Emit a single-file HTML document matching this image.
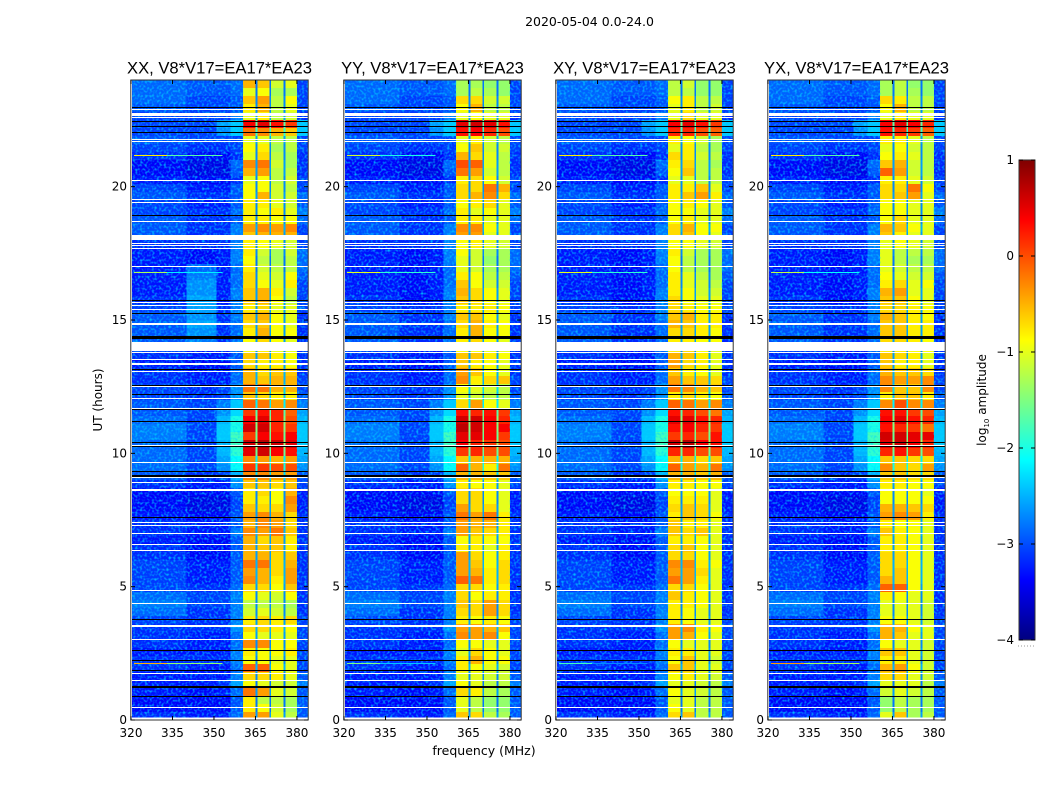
<!DOCTYPE html>
<html lang="en">
<head>
<meta charset="utf-8">
<title>2020-05-04 amplitude waterfall</title>
<style>
html,body{margin:0;padding:0;background:#fff;}
svg{display:block;}
text{font-family:"DejaVu Sans","Liberation Sans",sans-serif;fill:#000;}
.ttl{font-family:"Liberation Sans",sans-serif;font-size:16.6px;}
</style>
</head>
<body>
<svg id="fig" xmlns="http://www.w3.org/2000/svg" width="1050" height="800" viewBox="0 0 1050 800">
<defs>
<filter id="speckle" x="0" y="0" width="100%" height="100%" color-interpolation-filters="sRGB">
<feTurbulence type="fractalNoise" baseFrequency="0.42" numOctaves="1" seed="7"/>
<feColorMatrix type="matrix" values="0 0 0 0 0  0 0 0 0 0.85  0 0 0 0 1  2.2 0 0 0 -1.0"/>
</filter>
</defs>
<text x="589.5" y="26" text-anchor="middle" font-size="12.5">2020-05-04 0.0-24.0</text>
<text x="102" y="400" text-anchor="middle" font-size="12" transform="rotate(-90 102 400)">UT (hours)</text>
<text x="484" y="755" text-anchor="middle" font-size="12.5">frequency (MHz)</text>
<g id="panels"></g>
<g id="cbar"></g>
<text x="986" y="400" text-anchor="middle" font-size="12" transform="rotate(-90 986 400)">log<tspan font-size="7" dy="3">10</tspan><tspan dy="-3"> amplitude</tspan></text>
</svg>
<script>
// Chart data: log10 amplitude. Rows run from 24 h at the top down to 0 h.
const panelTitles = ["XX, V8*V17=EA17*EA23","YY, V8*V17=EA17*EA23","XY, V8*V17=EA17*EA23","YX, V8*V17=EA17*EA23"];
const xTickLabels = [320,335,350,365,380];
const yTickLabels = [0,5,10,15,20];
const colorbarTicks = [1,0,-1,-2,-3,-4];
// Frequency columns in MHz: west, mid, wing, shoulder, band1, gap, band2, gap, band3, gap, band4, right
const freqEdges = [320,340,351,356,360.5,365,365.7,370,370.7,375.2,375.9,380,384];

const xxBands = [
[-.5,-.6,-1.1,-1],[-1,-.9,-1.3,-1.3],[-.6,-.4,-1.2,-.9],[-.8,-.5,-1.2,-1],[-1,-.8,-1.2,-1.1],
[.4,.5,.3,.1],[-.2,-.3,-.5,-.6],[-1,-1,-1.2,-1.2],[-.9,-.8,-1.3,-1.2],[-1,-.7,-1.2,-1.3],
[-.3,-.2,-1.1,-1.3],[-.5,-.4,-1.2,-1.2],[-1,-.9,-1.2,-1.1],[-.9,-.9,-1.1,-1.2],[-.9,-.5,-1.1,-1.1],
[-.8,-.8,-1,-1.1],[-.8,-.9,-.8,-1],[-.8,-.8,-.9,-.9],[-.4,-.3,-.4,-.3],[-.6,-.5,-.5,-.5],
[-.8,-.9,-1,-1.1],[-.8,-1.1,-1.3,-1.1],[-.9,-1.2,-1.3,-1.2],[-.8,-1.1,-1.2,-1.2],[-.7,-1,-1.1,-.9],
[-.7,-.9,-1,-.8],[-.6,-.5,-.8,-1.1],[-.6,-.5,-.9,-1.2],[-.8,-.7,-1,-1],[-.6,-.5,-.9,-1],
[-.7,-.6,-.9,-1],[-.8,-.5,-.9,-.9],[-.9,-.7,-.9,-1],[-.9,-.8,-1,-1],[-.6,-.6,-.8,-.9],
[-.7,-.8,-.8,-.9],[-.5,-.7,-.6,-.6],[-.5,-.6,-.5,-.5],[-.2,-.2,-.5,-.5],[-.6,-.7,-.8,-.8],
[-.1,-.2,-.4,-.3],[.1,.3,.2,-.1],[.4,.5,.2,0],[.6,.6,.2,.1],[.1,.4,.3,.4],
[.6,.7,.6,.5],[.5,.6,.4,.3],[-.3,-.4,-.5,-.4],[.1,.1,0,0],[-.3,-.3,-.4,-.4],
[-.6,-.6,-.7,-.6],[-.8,-.7,-.9,-.5],[-.8,-.8,-.9,-.3],[-.6,-.7,-.7,-.4],[-.4,-.3,-.5,-.7],
[-.5,-.3,-.4,-.7],[-.3,-.4,-.2,-.6],[-.5,-.7,-.6,-.8],[-.5,-.6,-.6,-.8],[-.5,-.5,-.7,-.6],
[-.2,-.2,-.7,-.5],[-.4,-.5,-.7,-.4],[-.3,-.5,-.8,-.4],[-.7,-.7,-.9,-.6],[-.9,-1,-1.1,-.9],
[-1.2,-1.2,-1.2,-1.3],[-1.1,-1,-1.1,-1.2],[-.8,-.7,-.8,-.7],[-.7,-.7,-.8,-.9],[-.9,-1,-1,-1],
[-.3,-.3,-.9,-.9],[-.8,-.9,-.9,-.8],[-.9,-.9,-1,-1],[-.1,-.1,-.9,-1],[-.7,-.7,-.8,-1],
[-.9,-1,-1.1,-1.1],[-.2,-.4,-1,-1.1],[-.8,-1.2,-1.2,-1.3],[-.8,-.9,-1.1,-1.3],[-.4,-.4,-1,-1.2]];

const yyBands = [
[-1.3,-1.3,-1.4,-1.4],[-1.3,-1.2,-1.3,-1.4],[-.7,-.7,-1.1,-1.1],[-.9,-.5,-1.2,-1.2],[-1,-.9,-1,-1],
[.5,.6,.5,.3],[.3,.4,.2,0],[-1,-.8,-1.1,-1.2],[-.9,-.6,-1.1,-1.1],[-.5,-.7,-1,-1.2],
[0,-.1,-1,-1.2],[-.2,-.4,-1.1,-1.2],[-.8,-.7,-.9,-1.1],[-.7,-.7,-.2,-.5],[-.7,-.5,-.3,-.7],
[-.9,-.8,-.7,-1],[-.8,-1,-.9,-1],[-.8,-.8,-1,-1],[-.3,-.3,-.9,-1],[-.4,-.4,-1,-1],
[-.9,-.8,-1,-1.1],[-.9,-1.1,-1.3,-1.3],[-1,-1.1,-1.4,-1.3],[-1,-1.1,-1.3,-1.3],[-.8,-.9,-1.2,-1.2],
[-.6,-.9,-1.1,-1.1],[-.5,-.7,-.9,-1],[-.6,-.7,-.9,-1],[-.8,-.8,-.8,-.9],[-.6,-.6,-.9,-1],
[-.7,-.5,-.8,-.9],[-.8,-.5,-.9,-.9],[-.8,-.7,-.9,-1],[-.9,-.9,-1,-1],[-.6,-.6,-.8,-.9],
[-.6,-.8,-.9,-1],[-.4,-.6,-.9,-1],[-.3,-.8,-.7,-.6],[-.9,-1,-1.1,-1.2],[-1,-1.1,-1.2,-1.2],
[-.7,-.4,-.9,-1],[.3,.2,.3,.1],[.6,.6,.4,.2],[.7,.6,.4,.4],[.5,.5,.4,.1],
[.4,.2,.1,0],[.1,.2,0,0],[-.6,-.5,-.5,-.5],[-.1,-.5,-.8,-.2],[-.5,-.5,-.6,-.6],
[-.8,-.9,-.9,-1],[-.7,-.7,-.9,-1],[-.7,-.7,-.9,-1],[-.4,-.7,-.7,-1],[-.2,-.4,-.2,-.8],
[-.4,-.5,-.5,-.8],[-.4,-.6,-.7,-.8],[-.9,-.8,-.9,-.9],[-.8,-.8,-1,-.8],[-.4,-.7,-.9,-.8],
[-.4,-.6,-.9,-.7],[-.4,-.5,-.8,-.7],[-.1,-.2,-.8,-.7],[-.7,-.7,-.9,-.8],[-.7,-.9,-.8,-.8],
[-.6,-.7,-.4,-.7],[-.7,-.7,-.4,-.7],[-.8,-.9,-.8,-.9],[-.4,-.4,-.5,-.6],[-.3,-.4,-.3,-.9],
[-.9,-.9,-1,-1],[-1,-.7,-.9,-1],[-.8,-.5,-.9,-.9],[-.8,-.9,-1,-1.1],[-1,-1,-1.1,-1.1],
[-.9,-1,-1.2,-1.2],[-.7,-.8,-1.2,-1.3],[-1,-1.2,-1.4,-1.4],[-1,-1.2,-1.4,-1.4],[-.6,-.7,-1.2,-1.3]];

const xyBands = [
[-1.2,-1.1,-1.4,-1.4],[-1.2,-1.2,-1.4,-1.4],[-.9,-.8,-1.2,-1.2],[-1,-.8,-1.2,-1.1],[-1,-.7,-1,-1],
[.4,.5,.3,.1],[.2,.2,0,-.1],[-.8,-.9,-1.1,-1.3],[-1,-.8,-1.2,-1.3],[-.7,-.8,-1.1,-1.2],
[-.8,-.7,-1.2,-1.3],[-.9,-.6,-1.2,-1.2],[-1,-1,-1.2,-1.2],[-.8,-.8,-.6,-1],[-.8,-.6,-.4,-.8],
[-.9,-.8,-.9,-1],[-.9,-.9,-1,-1],[-.9,-.8,-1,-1],[-.7,-.5,-.9,-.9],[-.7,-.6,-.9,-1],
[-.9,-.9,-1,-1.1],[-.8,-1.1,-1.3,-1.3],[-.9,-1.2,-1.3,-1.3],[-.9,-1.2,-1.3,-1.3],[-.8,-1,-1.2,-1.3],
[-.8,-1,-1.1,-1.2],[-.8,-.9,-1.1,-1.1],[-.7,-.9,-1,-1],[-.7,-.8,-.9,-.9],[-.6,-.5,-.8,-.8],
[-.5,-.6,-.8,-.8],[-.7,-.7,-.8,-.9],[-.8,-.8,-.9,-.9],[-.8,-.7,-.9,-1],[-.5,-.6,-.8,-1],
[-.4,-.7,-.8,-1],[-.6,-.8,-.9,-1],[-.4,-.6,-.6,-.7],[-.2,-.3,-.5,-.6],[-.8,-.7,-.8,-.9],
[-.1,-.2,-.4,-.3],[.3,.2,0,-.2],[.5,.5,.3,.2],[.3,.4,.2,.1],[.1,.2,0,.3],
[.6,.7,.4,.3],[.2,.2,0,0],[-.5,-.5,-.7,-.6],[-.1,-.4,-.5,-.2],[-.5,-.5,-.6,-.5],
[-.8,-.8,-.9,-.9],[-.9,-.9,-.9,-1],[-.8,-.8,-.8,-1],[-.7,-.6,-.7,-1],[-.8,-.6,-.7,-.9],
[-.6,-.8,-.8,-1],[-.6,-.7,-.6,-1],[-.8,-.8,-.9,-1],[-.7,-.6,-.9,-1],[-.7,-.7,-.9,-1],
[-.3,-.3,-.8,-.9],[-.4,-.4,-.7,-1],[-.2,-.4,-.8,-1],[-.7,-.7,-.9,-1],[-.6,-.8,-.9,-1],
[-.8,-.8,-.9,-1],[-.8,-.9,-1,-1],[-.8,-.9,-1,-1],[-.4,-.3,-.8,-.9],[-.4,-.5,-.9,-1],
[-.9,-1,-1,-1],[-.8,-.8,-1,-1],[-.9,-.6,-1,-1.1],[-.6,-.6,-1,-1],[-.9,-.8,-1,-1.1],
[-1,-1,-1.1,-1.2],[-.9,-1,-1.1,-1.2],[-1,-1,-1.2,-1.2],[-.9,-1,-1.2,-1.2],[-.7,-.6,-1.2,-1.2]];

const yxBands = [
[-1.3,-1.2,-1.4,-1.4],[-1.3,-1.2,-1.3,-1.4],[-.7,-.8,-1.2,-1.2],[-.9,-.5,-1.2,-1.2],[-1,-.8,-1,-1],
[.4,.5,.4,.2],[.3,.2,.1,-.1],[-.8,-.8,-1,-1.2],[-1,-.9,-1.1,-1.2],[-.9,-.8,-1,-1.2],
[-.6,-.5,-1.1,-1.2],[-.1,-.4,-1.1,-1.2],[-.8,-.8,-1,-1.1],[-.7,-.7,-.2,-.9],[-.7,-.6,-.4,-1],
[-.9,-.9,-1,-1],[-.9,-.9,-1,-1],[-.9,-.7,-1,-1],[-.5,-.6,-.9,-1],[-.6,-.8,-1,-1],
[-1,-.9,-1,-1.1],[-1,-1.2,-1.2,-1.2],[-1,-1.2,-1.3,-1.3],[-1,-1.1,-1.2,-1.2],[-.9,-1,-1.1,-1.1],
[-.8,-.7,-1,-.9],[-.5,-.4,-1,-1],[-.6,-.6,-.9,-1],[-.7,-.7,-.8,-.9],[-.5,-.6,-.8,-.9],
[-.6,-.6,-.8,-.8],[-.6,-.6,-.8,-.8],[-.7,-.7,-.8,-.9],[-.8,-.8,-.9,-.9],[-.6,-.7,-.8,-1],
[-.6,-.8,-.8,-1],[-.5,-.6,-.6,-.7],[-.3,-.4,-.4,-.3],[-.3,-.6,-.6,-.3],[-.8,-.6,-.6,-.8],
[-.3,0,-.3,-.3],[.3,.3,.1,0],[.4,.5,.3,.2],[.3,.2,.1,-.2],[.6,.6,.5,.5],
[.5,.6,.4,.2],[.2,.3,.1,0],[-.6,-.6,-.7,-.7],[-.3,-.6,-.7,-.4],[-.6,-.6,-.7,-.7],
[-.8,-.8,-.9,-.9],[-.9,-.9,-.9,-1],[-.9,-.9,-.9,-.9],[-.5,-.5,-.6,-.7],[-.4,-.3,-.4,-.8],
[-.8,-.9,-.9,-1],[-.6,-.8,-.9,-1],[-.8,-.8,-.9,-1],[-.8,-.8,-.9,-1],[-.7,-.7,-.9,-1],
[-.7,-.7,-.9,-1],[-.7,-.6,-.9,-1],[-.5,-.6,-.9,-1],[-.1,-.1,-.9,-1],[-.8,-.9,-1,-1],
[-1,-1,-1,-1.1],[-1,-1,-1,-1.1],[-.9,-.9,-1,-1.1],[-.5,-.5,-.9,-1],[-.5,-.6,-1,-1],
[-.9,-1,-1,-1.1],[-.6,-.6,-1,-1.1],[-.8,-.8,-1,-1.1],[-.5,-.4,-.9,-1.1],[-.7,-.7,-1,-1.1],
[-1,-1,-1,-1.2],[-1.1,-1,-1.1,-1.2],[-1.4,-1.2,-1.3,-1.3],[-1.4,-1.2,-1.3,-1.3],[-1,-.6,-1.3,-1.2]];

const westLevel = [-2.9,-2.9,-2.9,-3,-3.1,-3.1,-3.1,-3,-3.1,-3.2,-3.4,-3.4,-3.3,-3.1,-3,-3.1,-3.1,-3,-3,-3,
-3.2,-3.3,-3.3,-3.3,-3.3,-3.3,-3.3,-3.2,-3.1,-3,-3,-3,-3,-3.1,-3.2,-3.3,-3.2,-3.2,-3.1,-3.1,
-3,-3,-2.9,-2.8,-2.8,-2.9,-2.9,-2.9,-2.9,-3,-3.2,-3.4,-3.4,-3.4,-3.3,-3.2,-3.2,-3.3,-3.2,-3.2,
-3.1,-3.1,-3.1,-3.1,-2.9,-2.8,-2.9,-3.1,-3.2,-3.2,-3.2,-3.3,-3.2,-3.2,-3.3,-3.3,-3.3,-3.4,-3.4,-3.2];
const midLevel = [-3,-3,-3.1,-3.1,-3.1,-3.1,-3.1,-3.1,-3.2,-3.4,-3.5,-3.5,-3.4,-3.3,-3.2,-3.3,-3.2,-3.2,-3.2,-3.2,
-3.2,-3.4,-3.4,-3.4,-3.4,-3.4,-3.4,-3.4,-3.2,-3.2,-3.2,-3.2,-3.2,-3.3,-3.3,-3.4,-3.3,-3.3,-3.2,-3.2,
-3.1,-3.1,-3.1,-3.1,-3.1,-3.1,-3.1,-3.1,-3.1,-3.2,-3.3,-3.4,-3.5,-3.5,-3.4,-3.3,-3.3,-3.4,-3.4,-3.4,
-3.3,-3.3,-3.3,-3.2,-3.1,-3.1,-3.2,-3.2,-3.2,-3.3,-3.3,-3.3,-3.2,-3.3,-3.3,-3.3,-3.4,-3.4,-3.4,-3.3];
const xxMidLevel = [-3,-3,-3.1,-3.1,-3.1,-3.1,-3.1,-3.1,-3.2,-3.4,-3.5,-3.5,-3.4,-3.3,-3.2,-3.3,-3.2,-3.2,-3.2,-3.2,
-3.2,-3.4,-3.4,-2.9,-2.8,-2.7,-2.7,-2.6,-2.6,-2.7,-2.6,-2.7,-2.8,-3.3,-3.3,-3.4,-3.3,-3.3,-3.2,-3.2,
-3.1,-3.1,-3.1,-3.1,-3.1,-3.1,-3.1,-3.1,-3.1,-3.2,-3.3,-3.4,-3.5,-3.5,-3.4,-3.3,-3.3,-3.4,-3.4,-3.4,
-3.3,-3.3,-3.3,-3.2,-3.1,-3.1,-3.2,-3.2,-3.2,-3.3,-3.3,-3.3,-3.2,-3.3,-3.3,-3.3,-3.4,-3.4,-3.4,-3.3];
const wingLevel = [-3,-3,-3.1,-3.1,-3.1,-2.6,-2.7,-3.1,-3.2,-3.4,-3.5,-3.5,-3.4,-3.3,-3.2,-3.3,-3.2,-3.2,-3.2,-3.2,
-3.2,-3.3,-3.3,-3.3,-3.3,-3.3,-3.3,-3.3,-3.2,-3.2,-3.2,-3.2,-3.2,-3.3,-3.3,-3.4,-3.3,-3.3,-3.1,-3.1,
-2.8,-2.7,-2.5,-2.4,-2.4,-2.5,-2.5,-2.6,-2.7,-3.1,-3.3,-3.4,-3.5,-3.5,-3.4,-3.3,-3.3,-3.4,-3.4,-3.4,
-3.3,-3.3,-3.3,-3.2,-3.1,-3.1,-3.2,-3.2,-3.2,-3.3,-3.3,-3.3,-3.2,-3.3,-3.3,-3.2,-3.3,-3.4,-3.4,-3.3];
const shoulderLevel = [-2.9,-2.9,-3,-3,-2.8,-2.4,-2.4,-3.1,-3.1,-3.2,-2.9,-3,-3.2,-3,-3,-3,-2.9,-3,-2.8,-2.8,
-2.8,-2.8,-2.8,-2.9,-2.9,-2.9,-2.8,-2.8,-2.8,-2.8,-2.9,-2.9,-2.9,-2.9,-3,-3,-2.9,-2.9,-2.7,-2.7,
-2.4,-2.3,-2,-2,-1.8,-1.8,-1.9,-2.1,-2.1,-2.5,-2.7,-3,-3.1,-3.1,-3,-3,-2.8,-3,-3,-3,
-3,-3,-3,-2.9,-2.8,-2.8,-2.8,-2.8,-2.7,-2.9,-2.9,-2.8,-2.8,-2.9,-2.8,-2.6,-2.9,-3,-3,-2.9];
const rightLevel = [-3.1,-3.1,-3.1,-3.1,-3.2,-2.4,-2.4,-3.1,-3.1,-3.2,-3.2,-3.2,-3.1,-3.1,-2.9,-3,-2.8,-2.9,-3.1,-3.1,
-3.1,-2.9,-2.9,-2.9,-3,-3.1,-3.1,-3.1,-3.1,-3.2,-3.2,-3.2,-3.2,-3.2,-3.2,-3.2,-3.2,-3.1,-3.1,-3,
-2.8,-2.6,-2.5,-2.4,-2.4,-2.4,-2.5,-2.6,-2.7,-3,-3.1,-3.3,-3.3,-3.3,-3.2,-3.2,-3.2,-3.2,-3.2,-3.2,
-3.2,-3.2,-3.2,-3.2,-3.2,-3.2,-3.2,-3.1,-3.1,-3.1,-3.1,-3.1,-3.1,-3.1,-3,-2.8,-3,-3,-3,-3];
const gapLevel = [-2.8,-2.8,-2.7,-2.7,-2.6,-1.7,-1.9,-2.6,-2.7,-2.7,-2.6,-2.6,-2.7,-2.7,-2.6,-2.7,-2.7,-2.7,-2.5,-2.6,
-2.7,-2.7,-2.8,-2.8,-2.7,-2.7,-2.6,-2.6,-2.6,-2.6,-2.6,-2.6,-2.6,-2.7,-2.6,-2.6,-2.5,-2.5,-2.3,-2.4,
-2.2,-1.7,-1.5,-1.5,-1.6,-1.4,-1.6,-2.2,-2,-2.3,-2.6,-2.7,-2.7,-2.6,-2.6,-2.6,-2.5,-2.6,-2.6,-2.6,
-2.5,-2.5,-2.5,-2.6,-2.7,-2.7,-2.7,-2.6,-2.5,-2.6,-2.7,-2.6,-2.7,-2.5,-2.7,-2.8,-2.6,-2.8,-2.8,-2.6];

// Flagged time ranges in hours: centre and span
const whiteFlagHours = [22.91,22.71,22.59,21.78,21.69,20.24,19.53,19.39,18.7,18.1,17.86,17.79,17.67,17.01,15.64,15.53,15.39,14.86,14,13.77,13.51,13.35,13.08,12.51,12.05,11.69,10.31,9.66,9.08,8.89,8.64,7.41,7.28,7,6.59,6.36,4.86,4.38,3.54,3.49,3.03,1.75,1.5,.48];
const whiteFlagSpans = [.05,.11,.05,.05,.05,.05,.05,.05,.05,.175,.05,.05,.05,.05,.05,.05,.05,.08,.35,.05,.05,.08,.05,.05,.05,.05,.05,.05,.05,.05,.09,.05,.05,.05,.05,.05,.05,.05,.05,.05,.05,.05,.05,.05];
const blackFlagHours = [22.98,22.43,22.26,22.04,18.93,15.72,15.25,14.35,13.16,12.55,12.21,11.63,11.21,10.41,10.24,9.31,9.15,7.6,3.78,2.59,2.24,1.86,1.25,.89];
const blackFlagSpans = [.05,.04,.04,.04,.04,.04,.04,.11,.04,.04,.04,.04,.05,.05,.04,.04,.08,.04,.04,.04,.04,.04,.08,.04];

// Narrow interference lines: hour, and the level of each panel (XX, YY, XY, YX)
const rfiHours = [21.2,16.8,2.14];
const xxRfi = [-.8,-1.3,-.5];
const yyRfi = [-1.1,-1,-1.5];
const xyRfi = [-.8,-1,-1.8];
const yxRfi = [-.8,-1.2,-.4];
const rfiEdges = [321,333,353];

const panelBands = [xxBands,yyBands,xyBands,yxBands];
const panelRfi = [xxRfi,yyRfi,xyRfi,yxRfi];
const panelMid = [xxMidLevel,midLevel,midLevel,midLevel];

// Layout
const NS = "http://www.w3.org/2000/svg";
const panelLeft = [131,344,556,768];
const plotW = 177, plotTop = 80, plotBottom = 720;
const vMin = -4, vMax = 1;

function xScale(p, f){ return panelLeft[p] + (f - 320) * plotW / 64; }
function yScale(h){ return plotBottom - h * (plotBottom - plotTop) / 24; }
function clip01(v){ return Math.max(0, Math.min(1, v)); }
function jet(v){
  const t = clip01((v - vMin) / (vMax - vMin));
  const r = clip01(1.5 - Math.abs(4*t - 3));
  const g = clip01(1.5 - Math.abs(4*t - 2));
  const b = clip01(1.5 - Math.abs(4*t - 1));
  return "rgb(" + Math.round(r*255) + "," + Math.round(g*255) + "," + Math.round(b*255) + ")";
}
function mk(parent, tag, attrs){
  const el = document.createElementNS(NS, tag);
  for (const k in attrs) el.setAttribute(k, attrs[k]);
  parent.appendChild(el);
  return el;
}
function columnValue(p, r, c){
  const b = panelBands[p][r];
  switch (c) {
    case 0: return westLevel[r];
    case 1: return panelMid[p][r];
    case 2: return wingLevel[r];
    case 3: return shoulderLevel[r];
    case 4: return b[0];
    case 5: return gapLevel[r];
    case 6: return b[1];
    case 7: return gapLevel[r];
    case 8: return b[2];
    case 9: return gapLevel[r];
    case 10: return b[3];
    default: return rightLevel[r];
  }
}
function flagRect(g, p, h, span, colour){
  const hh = Math.max(1, Math.round(span * (plotBottom - plotTop) / 24));
  const yy = Math.round(yScale(h) - hh / 2);
  return mk(g, "rect", {x:panelLeft[p], y:yy, width:plotW, height:hh, fill:colour, "shape-rendering":"crispEdges"});
}

const panelsG = document.getElementById("panels");
const rowNames = ["xx","yy","xy","yx"];
panelTitles.forEach(function(title, p){
  const g = mk(panelsG, "g", {});
  
  

  const rows = panelBands[p].length;
  const span = 24 / rows;
  const heat = mk(g, "g", {"shape-rendering":"crispEdges"});
  
  
  for (let r = 0; r < rows; r++) {
    const y0 = yScale(24 - r * span), y1 = yScale(24 - (r + 1) * span);
    for (let c = 0; c < freqEdges.length - 1; c++) {
      const x0 = xScale(p, freqEdges[c]), x1 = xScale(p, freqEdges[c+1]);
      const cell = mk(heat, "rect", {x:x0.toFixed(2), y:y0.toFixed(2), width:(x1-x0).toFixed(2), height:(y1-y0).toFixed(2), fill:jet(columnValue(p,r,c))});
      
      
    }
  }
  // decorative grain over the out-of-band background only (texture, not data)
  const grainA = mk(g, "rect", {x:xScale(p,320), y:plotTop, width:xScale(p,360.5)-xScale(p,320), height:plotBottom-plotTop, filter:"url(#speckle)"});
  
  
  const grainB = mk(g, "rect", {x:xScale(p,380), y:plotTop, width:xScale(p,384)-xScale(p,380), height:plotBottom-plotTop, filter:"url(#speckle)"});
  
  
  // interference lines
  rfiHours.forEach(function(h, i){
    const v = panelRfi[p][i];
    const a = mk(g, "rect", {x:xScale(p,rfiEdges[0]), y:Math.round(yScale(h)), width:xScale(p,rfiEdges[1])-xScale(p,rfiEdges[0]), height:1, fill:jet(v), "shape-rendering":"crispEdges"});
    
    
    const b = mk(g, "rect", {x:xScale(p,rfiEdges[1]), y:Math.round(yScale(h)), width:xScale(p,rfiEdges[2])-xScale(p,rfiEdges[1]), height:1, fill:jet(v-0.9), "shape-rendering":"crispEdges"});
    
    
  });
  // flags
  whiteFlagHours.forEach(function(h, i){
    const f = flagRect(g, p, h, whiteFlagSpans[i], "#fff");
    
    
  });
  blackFlagHours.forEach(function(h, i){
    const f = flagRect(g, p, h, blackFlagSpans[i], "#000");
    
    
  });
  // unfilled strips next to the frame
  const s1 = mk(g, "rect", {x:panelLeft[p], y:717.5, width:plotW, height:2.5, fill:"#fff"});
  
  
  const s2 = mk(g, "rect", {x:panelLeft[p], y:plotTop, width:1, height:plotBottom-plotTop, fill:"#fff"});
  
  
  // frame
  const frame = mk(g, "rect", {x:panelLeft[p]-0.2, y:plotTop, width:plotW+0.4, height:plotBottom-plotTop, fill:"none", stroke:"#333", "stroke-width":1});
  
  
  // ticks and labels
  xTickLabels.forEach(function(t){
    const x = xScale(p, t);
    const t1 = mk(g, "line", {x1:x, x2:x, y1:plotBottom, y2:plotBottom-4, stroke:"#000"});
    
    
    const t2 = mk(g, "line", {x1:x, x2:x, y1:plotTop, y2:plotTop+4, stroke:"#000"});
    
    
    const lb = mk(g, "text", {x:x, y:737, "text-anchor":"middle", "font-size":12});
    lb.textContent = t;
    
    
  });
  yTickLabels.forEach(function(t){
    const y = yScale(t);
    const t1 = mk(g, "line", {x1:panelLeft[p], x2:panelLeft[p]+4, y1:y, y2:y, stroke:"#000"});
    
    
    const t2 = mk(g, "line", {x1:panelLeft[p]+plotW, x2:panelLeft[p]+plotW-4, y1:y, y2:y, stroke:"#000"});
    
    
    const lb = mk(g, "text", {x:panelLeft[p]-4, y:y+4, "text-anchor":"end", "font-size":12});
    lb.textContent = t;
    
    
  });
  const ti = mk(g, "text", {x:panelLeft[p]+plotW/2, y:73.5, "text-anchor":"middle", "class":"ttl"});
  ti.textContent = title;
  
  
});

// Colorbar
const cb = document.getElementById("cbar");
const cbX = 1019, cbW = 16, cbTop = 160, cbBottom = 640;
function cbY(v){ return cbBottom - (v - vMin) * (cbBottom - cbTop) / (vMax - vMin); }
const cbHeat = mk(cb, "g", {"shape-rendering":"crispEdges"});


for (let y = cbTop; y < cbBottom; y++) {
  const v = vMax - (y + 0.5 - cbTop) * (vMax - vMin) / (cbBottom - cbTop);
  const s = mk(cbHeat, "rect", {x:cbX, y:y, width:cbW, height:1, fill:jet(v)});
  
  
}
const cbFrame = mk(cb, "rect", {x:cbX, y:cbTop, width:cbW, height:cbBottom-cbTop, fill:"none", stroke:"#333", "stroke-width":1});


colorbarTicks.forEach(function(t){
  const y = cbY(t);
  const a = mk(cb, "line", {x1:cbX, x2:cbX+4, y1:y, y2:y, stroke:"#000"});
  
  
  const b = mk(cb, "line", {x1:cbX+cbW, x2:cbX+cbW-4, y1:y, y2:y, stroke:"#000"});
  
  
  const lb = mk(cb, "text", {x:cbX-5, y:y+4, "text-anchor":"end", "font-size":12});
  lb.textContent = String(t).replace("-", "\u2212");
  
  
});
const dots = mk(cb, "line", {x1:1018, x2:1035, y1:646, y2:646, stroke:"#999", "stroke-dasharray":"1 2", "stroke-width":1});


</script>
</body>
</html>
